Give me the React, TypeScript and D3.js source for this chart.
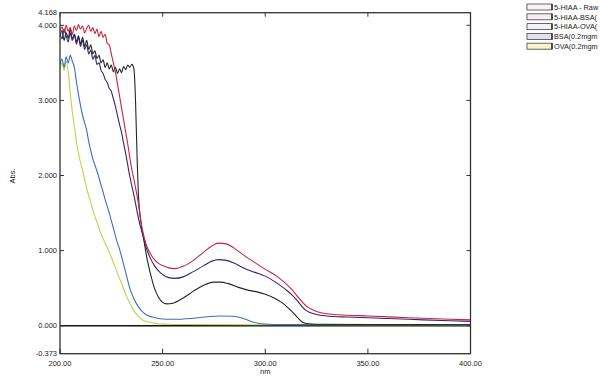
import React from "react";
import * as d3 from "d3";

const seriesNames = ["5-HIAA - Raw", "5-HIAA-BSA(", "5-HIAA-OVA(", "BSA(0.2mgm", "OVA(0.2mgm"];
const seriesColors = ["#c8243c", "#3a2070", "#1f2a1f", "#3f6cc0", "#b9d64a"];
const legendFills = ["#fbf4f6", "#f6eef2", "#f4f2f6", "#e4e0f2", "#f7f3cc"];

const yTicks = [0, 1, 2, 3, 4];
const yEnds = [-0.373, 4.168];
const xTicks = [200, 250, 300, 350, 400];

const hiaaRaw: [number, number][] = [
  [200, 3.93], [201, 3.98], [202, 3.9], [203, 4.0], [204, 3.92], [205, 3.97], [206, 3.88], [207, 3.99],
  [208, 3.93], [209, 4.01], [210, 3.95], [211, 3.99], [212, 3.9], [213, 3.96], [214, 4.0], [215, 3.92],
  [216, 3.97], [217, 3.89], [218, 3.95], [219, 3.85], [220, 3.92], [221, 3.84], [222, 3.88], [223, 3.76],
  [224, 3.74], [225, 3.62], [226, 3.5], [227, 3.38], [228, 3.22], [229, 3.06], [230, 2.9], [231, 2.74],
  [232, 2.58], [233, 2.42], [234, 2.24], [235, 2.08], [236, 1.95], [237, 1.81], [238, 1.66], [239, 1.47],
  [240, 1.3], [241, 1.18], [242, 1.08], [244, 0.96], [246, 0.88], [248, 0.83], [250, 0.8], [253, 0.77],
  [256, 0.76], [260, 0.79], [265, 0.87], [270, 0.98], [274, 1.06], [277, 1.1], [281, 1.09], [285, 1.03],
  [290, 0.93], [295, 0.84], [300, 0.75], [305, 0.67], [310, 0.56], [313, 0.48], [316, 0.38], [320, 0.26],
  [325, 0.19], [330, 0.16], [340, 0.14], [350, 0.13], [370, 0.105], [390, 0.085], [400, 0.078],
];

const hiaaBsa: [number, number][] = [
  [200, 3.9], [201, 3.82], [202, 3.95], [203, 3.86], [204, 3.78], [205, 3.9], [206, 3.8], [207, 3.88],
  [208, 3.75], [209, 3.84], [210, 3.72], [211, 3.8], [212, 3.68], [213, 3.74], [214, 3.62], [215, 3.67],
  [216, 3.55], [217, 3.6], [218, 3.48], [219, 3.5], [220, 3.4], [221, 3.36], [222, 3.28], [223, 3.24],
  [224, 3.16], [225, 3.12], [226, 3.02], [227, 2.92], [228, 2.8], [229, 2.68], [230, 2.57], [231, 2.43],
  [232, 2.29], [233, 2.14], [234, 1.99], [235, 1.86], [236, 1.74], [237, 1.6], [238, 1.46], [239, 1.34],
  [240, 1.24], [242, 1.04], [244, 0.9], [246, 0.8], [248, 0.73], [250, 0.68], [253, 0.64], [256, 0.63],
  [260, 0.65], [265, 0.72], [270, 0.8], [274, 0.86], [277, 0.88], [281, 0.87], [285, 0.83], [290, 0.76],
  [295, 0.71], [300, 0.66], [305, 0.58], [310, 0.48], [313, 0.41], [316, 0.32], [318, 0.25], [320, 0.2],
  [325, 0.15], [330, 0.13], [340, 0.115], [350, 0.105], [370, 0.085], [390, 0.065], [400, 0.058],
];

const hiaaOva: [number, number][] = [
  [200, 3.85], [201, 3.93], [202, 3.8], [203, 3.9], [204, 3.83], [205, 3.95], [206, 3.82], [207, 3.88],
  [208, 3.78], [209, 3.86], [210, 3.75], [211, 3.84], [212, 3.72], [213, 3.8], [214, 3.68], [215, 3.74],
  [216, 3.62], [217, 3.66], [218, 3.56], [219, 3.6], [220, 3.5], [221, 3.54], [222, 3.44], [223, 3.5],
  [224, 3.42], [225, 3.47], [226, 3.38], [227, 3.44], [228, 3.36], [229, 3.42], [230, 3.37], [231, 3.45],
  [232, 3.41], [233, 3.47], [234, 3.44], [235, 3.48], [236, 3.42], [236.8, 3.0], [237.5, 2.3], [238.3, 1.7],
  [239.3, 1.4], [240.5, 1.2], [242, 0.95], [244, 0.7], [246, 0.5], [248, 0.38], [250, 0.31], [252, 0.29],
  [255, 0.3], [260, 0.37], [265, 0.46], [270, 0.54], [275, 0.58], [278, 0.58], [282, 0.56], [287, 0.51],
  [292, 0.47], [296, 0.45], [300, 0.42], [305, 0.36], [308, 0.31], [311, 0.24], [314, 0.16], [316, 0.1],
  [318, 0.05], [320, 0.03], [325, 0.02], [350, 0.015], [400, 0.013],
];

const bsa: [number, number][] = [
  [200, 3.48], [201, 3.55], [202, 3.44], [203, 3.58], [204, 3.5], [205, 3.6], [206, 3.52], [207, 3.44],
  [208, 3.25], [209, 3.08], [210, 2.93], [211, 2.8], [212, 2.7], [213, 2.6], [214, 2.45], [215, 2.33],
  [216, 2.22], [217, 2.14], [218, 2.06], [219, 1.97], [220, 1.87], [221, 1.78], [222, 1.68], [224, 1.5],
  [226, 1.3], [228, 1.1], [229, 1.02], [230, 0.92], [232, 0.71], [234, 0.5], [236, 0.36], [238, 0.26],
  [240, 0.19], [242, 0.145], [245, 0.115], [248, 0.095], [252, 0.085], [258, 0.085], [265, 0.1],
  [272, 0.12], [278, 0.13], [284, 0.125], [290, 0.09], [294, 0.05], [298, 0.025], [305, 0.015], [400, 0.012],
];

const ova: [number, number][] = [
  [200, 3.42], [201, 3.5], [202, 3.4], [203, 3.52], [204, 3.38], [205, 3.1], [206, 2.85], [207, 2.65],
  [208, 2.45], [209, 2.3], [210, 2.17], [211, 2.07], [212, 1.95], [213, 1.83], [214, 1.73], [215, 1.64],
  [216, 1.54], [218, 1.38], [220, 1.22], [222, 1.1], [224, 0.98], [226, 0.84], [228, 0.7], [230, 0.56],
  [232, 0.42], [234, 0.3], [236, 0.2], [238, 0.13], [240, 0.08], [243, 0.05], [247, 0.03], [252, 0.02],
  [260, 0.015], [400, 0.01],
];

const allSeries = [hiaaRaw, hiaaBsa, hiaaOva, bsa, ova];

const W = 600;
const H = 376;
const left = 60;
const right = 470.5;
const top = 12.7;
const bottom = 353.7;

export default function App() {
  const x = d3.scaleLinear().domain([200, 400]).range([left, right]);
  const y = d3.scaleLinear().domain([-0.373, 4.168]).range([bottom, top]);
  const line = d3
    .line<[number, number]>()
    .x((d) => x(d[0]))
    .y((d) => y(d[1]))
    .curve(d3.curveMonotoneX);

  const font = "'Liberation Sans', Arial, sans-serif";
  const drawOrder = [4, 3, 2, 1, 0];

  return (
    <svg
      width={W}
      height={H}
      style={{ position: "absolute", left: 0, top: 0, background: "#fff" }}
      fontFamily={font}
    >
      <rect x={0} y={0} width={W} height={H} fill="#fff" />
      <defs>
        <clipPath id="plotClip">
          <rect x={left} y={top} width={right - left} height={bottom - top} />
        </clipPath>
      </defs>

      {/* zero line */}
      <line x1={left} x2={right} y1={y(0)} y2={y(0)} stroke="#111" strokeWidth={1.5} />

      <g clipPath="url(#plotClip)">
        {drawOrder.map((i) => (
          <path
            key={i}
            d={line(allSeries[i]) || ""}
            fill="none"
            stroke={seriesColors[i]}
            strokeWidth={1.1}
            strokeLinejoin="round"
          />
        ))}
      </g>

      {/* frame */}
      <rect
        x={left}
        y={top}
        width={right - left}
        height={bottom - top}
        fill="none"
        stroke="#333"
        strokeWidth={1.3}
      />

      {/* y ticks */}
      {yTicks.map((t) => (
        <g key={"y" + t}>
          <line x1={left} x2={left + 4} y1={y(t)} y2={y(t)} stroke="#333" strokeWidth={1} />
          <line x1={right} x2={right - 4} y1={y(t)} y2={y(t)} stroke="#333" strokeWidth={1} />
        </g>
      ))}
      {[...yEnds, ...yTicks].map((t) => (
        <text
          key={"yl" + t}
          x={57}
          y={y(t)}
          dy="0.35em"
          textAnchor="end"
          fontSize={7.5}
          fill="#222"
        >
          {t.toFixed(3)}
        </text>
      ))}

      {/* x ticks */}
      {xTicks.map((t) => (
        <g key={"x" + t}>
          <line x1={x(t)} x2={x(t)} y1={bottom} y2={bottom - 5} stroke="#333" strokeWidth={1} />
          <line x1={x(t)} x2={x(t)} y1={top} y2={top + 4} stroke="#333" strokeWidth={1} />
          <text x={x(t)} y={366} textAnchor="middle" fontSize={7.5} fill="#222">
            {t.toFixed(2)}
          </text>
        </g>
      ))}
      <text x={x(300)} y={373.5} textAnchor="middle" fontSize={7.5} fill="#222">
        nm
      </text>
      <text
        transform="translate(15,176) rotate(-90)"
        textAnchor="middle"
        fontSize={7.5}
        fill="#222"
      >
        Abs.
      </text>

      {/* legend */}
      {seriesNames.map((name, i) => {
        const yy = 4 + i * 9.8;
        return (
          <g key={name}>
            <rect x={527} y={yy} width={25} height={6} fill={legendFills[i]} stroke="#444" strokeWidth={0.8} />
            <line x1={552} x2={552} y1={yy} y2={yy + 6} stroke="#222" strokeWidth={1.4} />
            <text x={554} y={yy + 5.8} fontSize={7.3} fill="#222">
              {name}
            </text>
          </g>
        );
      })}
    </svg>
  );
}
